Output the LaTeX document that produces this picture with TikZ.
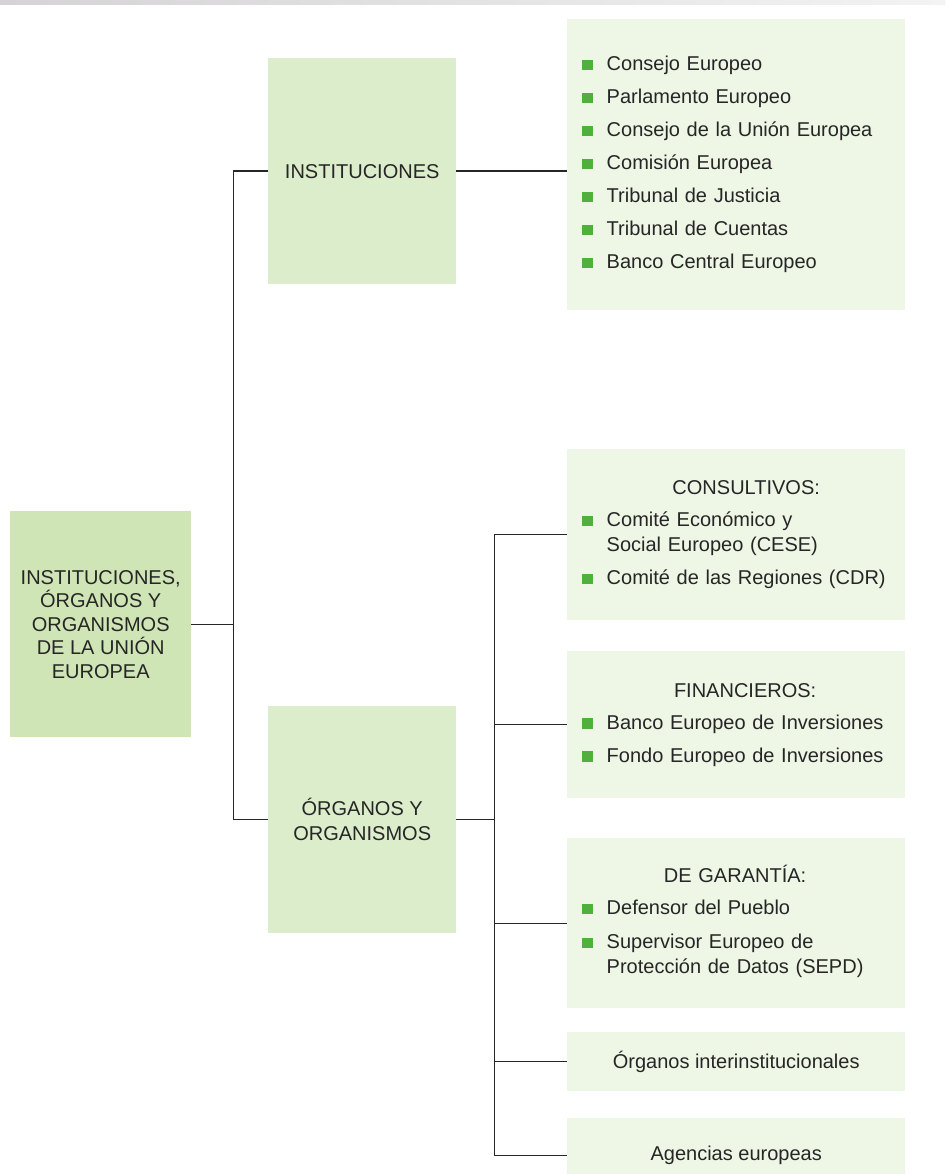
\documentclass[tikz,border=0pt]{standalone}
\usepackage{fontspec}
\setmainfont{Liberation Sans}
\definecolor{rootgreen}{RGB}{207,229,181}
\definecolor{midgreen}{RGB}{220,237,203}
\definecolor{palegreen}{RGB}{238,246,229}
\definecolor{bulgreen}{RGB}{80,176,60}
\definecolor{ink}{RGB}{38,38,38}
\definecolor{barleft}{RGB}{213,211,213}
\definecolor{barright}{RGB}{243,243,243}
\newcommand{\bul}{\textcolor{bulgreen}{\rule[0.5pt]{10.5pt}{10.5pt}}}
\tikzset{
  box/.style={rectangle, inner sep=0pt, anchor=north west, text=ink,
    font=\fontsize{20}{25}\selectfont},
  rootbox/.style={box, fill=rootgreen, align=center,
    font=\fontsize{20}{23.5}\selectfont},
  midbox/.style={box, fill=midgreen, align=center},
  listbox/.style={box, fill=palegreen, minimum width=338pt,
    inner xsep=15pt, text width=308pt, align=left},
  onebox/.style={box, fill=palegreen, minimum width=338pt, align=center},
  link/.style={draw=ink, line width=1.4pt}
}
\begin{document}
\begin{tikzpicture}[x=1pt,y=-1pt]
\useasboundingbox (0,0) rectangle (945,1174);
\clip (0,0) rectangle (945,1174);
\shade[left color=barleft, right color=barright] (0,0) rectangle (945,5);

% root and the two main groups
\node[rootbox, minimum width=181pt, minimum height=226pt] (root) at (10,511)
  {INSTITUCIONES,\\ ÓRGANOS Y\\ ORGANISMOS\\ DE LA UNIÓN\\ EUROPEA};
\node[midbox, minimum width=188pt, minimum height=226pt] (inst) at (268,58)
  {INSTITUCIONES};
\node[midbox, minimum width=188pt, minimum height=227pt] (org) at (268,706)
  {ÓRGANOS Y\\ ORGANISMOS};

% list of the institutions
\node[listbox, minimum height=291pt] (instlist) at (567,19)
  {\begin{tabular}{@{}l@{\hspace{14pt}}l@{}}
   \bul & Consejo Europeo\\[8pt]
   \bul & Parlamento Europeo\\[8pt]
   \bul & Consejo de la Unión Europea\\[8pt]
   \bul & Comisión Europea\\[8pt]
   \bul & Tribunal de Justicia\\[8pt]
   \bul & Tribunal de Cuentas\\[8pt]
   \bul & Banco Central Europeo
   \end{tabular}};

% bodies and agencies
\node[listbox, minimum height=171pt] (consult) at (567,449)
  {\begin{tabular}{@{}l@{\hspace{14pt}}l@{}}
   & \multicolumn{1}{c}{CONSULTIVOS:}\\[7pt]
   \bul & Comité Económico y\\
        & Social Europeo (CESE)\\[8pt]
   \bul & Comité de las Regiones (CDR)
   \end{tabular}};
\node[listbox, minimum height=147pt] (finan) at (567,651)
  {\begin{tabular}{@{}l@{\hspace{14pt}}l@{}}
   & \multicolumn{1}{c}{FINANCIEROS:}\\[7pt]
   \bul & Banco Europeo de Inversiones\\[8pt]
   \bul & Fondo Europeo de Inversiones
   \end{tabular}};
\node[listbox, minimum height=170pt] (garan) at (567,838)
  {\begin{tabular}{@{}l@{\hspace{14pt}}l@{}}
   & \multicolumn{1}{c}{DE GARANTÍA:}\\[7pt]
   \bul & Defensor del Pueblo\\[9pt]
   \bul & Supervisor Europeo de\\
        & Protección de Datos (SEPD)
   \end{tabular}};
\node[onebox, minimum height=59pt] (inter) at (567,1032)
  {Órganos interinstitucionales};
\node[onebox, minimum height=74pt] (agen) at (567,1118)
  {Agencias europeas};

% connectors
\path (root.east) ++(42,0) coordinate (j1);
\path (org.east) ++(38,0) coordinate (j2);
\draw[link] (root.east) -- (j1);
\draw[link] (inst.west) -| (j1) |- (org.west);
\draw[link] (inst.east) -- (inst.east -| instlist.west);
\draw[link] (org.east) -- (j2);
\draw[link] (consult.west) -| (agen.west -| j2) -- (agen.west);
\foreach \b in {finan,garan,inter}
  \draw[link] (\b.west -| j2) -- (\b.west);

\end{tikzpicture}
\end{document}
